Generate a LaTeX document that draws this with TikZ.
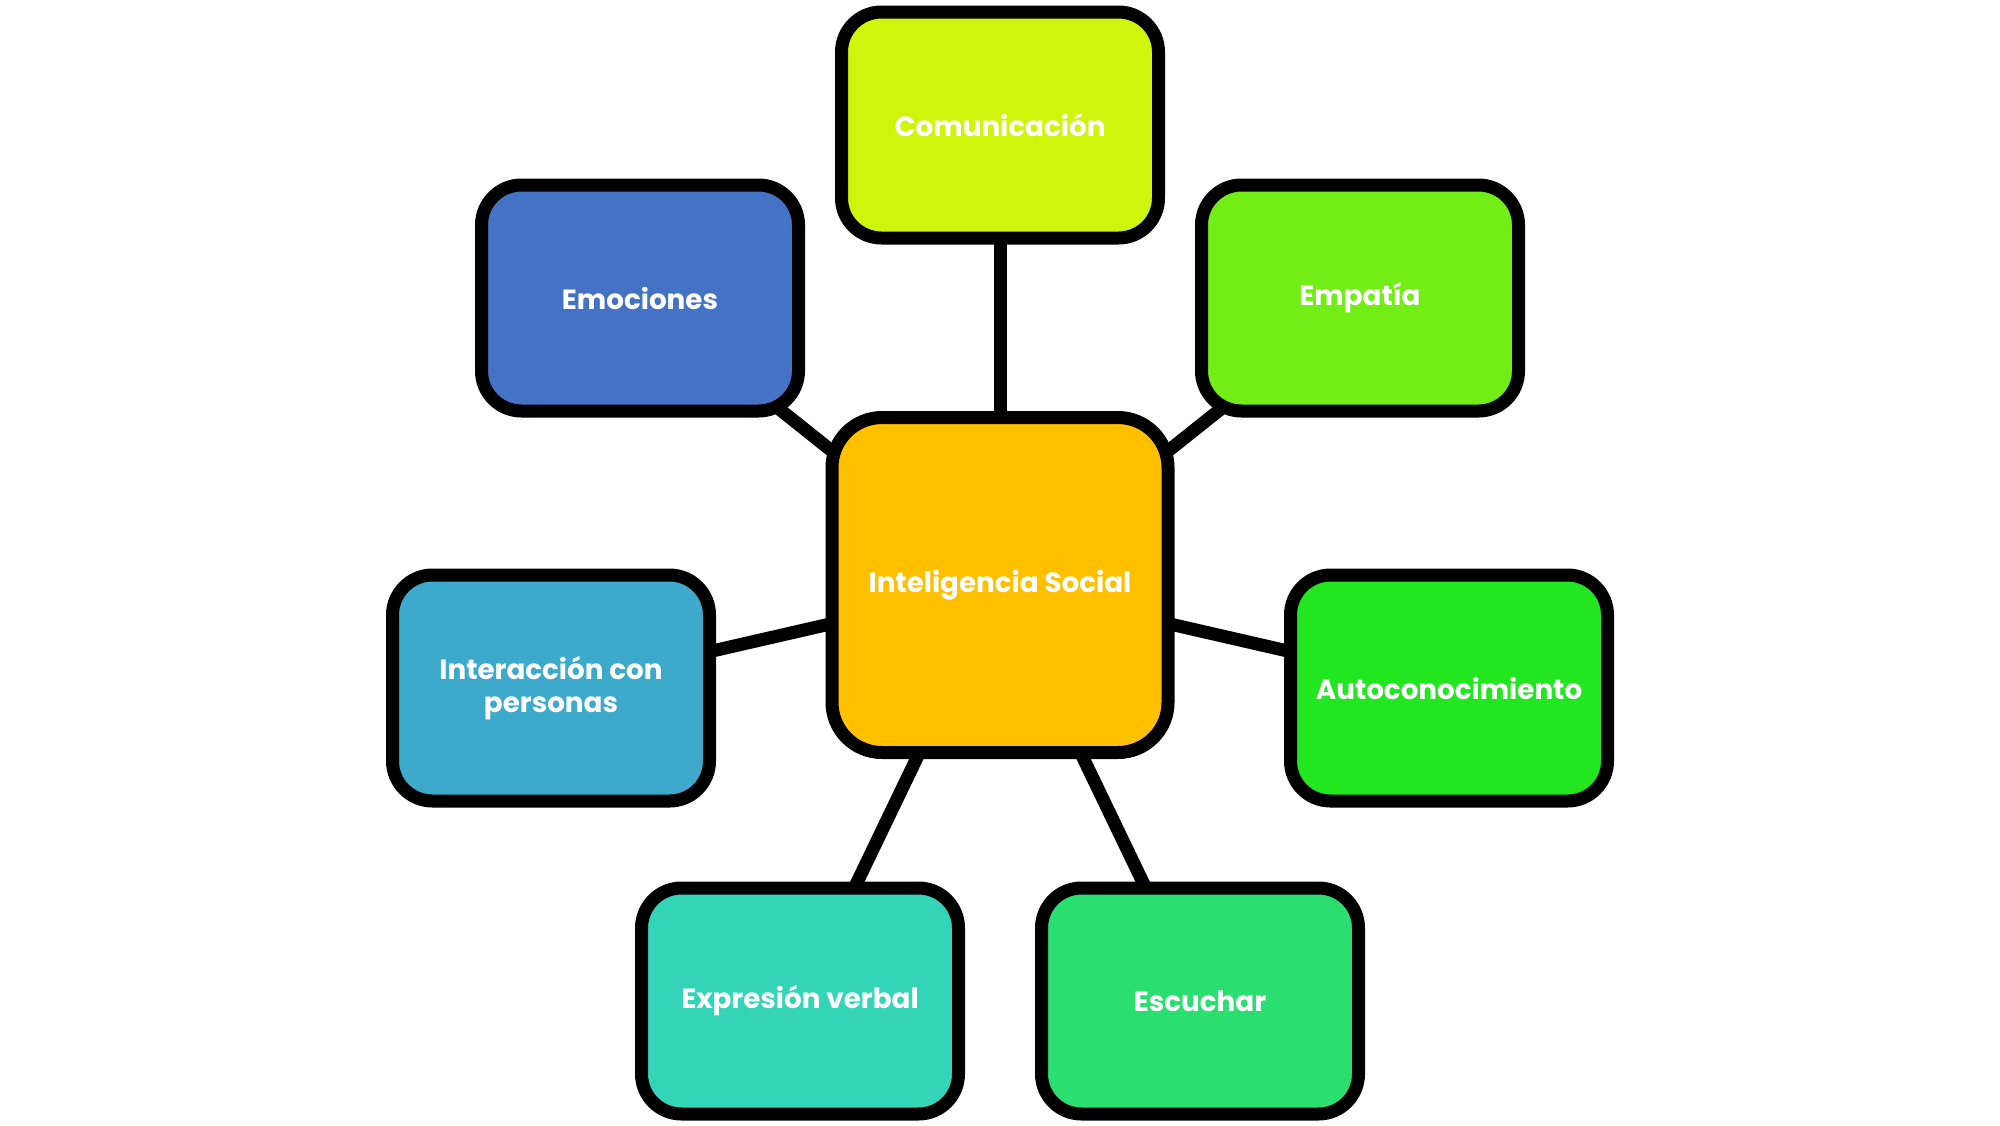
\documentclass[tikz,border=0pt]{standalone}
\usepackage{fontspec}
\setsansfont{Poppins}
\usetikzlibrary{backgrounds}

\definecolor{colcentro}{HTML}{FFC000}
\definecolor{colcomunicacion}{HTML}{CFF50C}
\definecolor{colemociones}{HTML}{4472C4}
\definecolor{colempatia}{HTML}{72EE16}
\definecolor{colinteraccion}{HTML}{3DAACC}
\definecolor{colauto}{HTML}{22E620}
\definecolor{colexpresion}{HTML}{33D4B8}
\definecolor{colescuchar}{HTML}{2ADE70}

\begin{document}
\begin{tikzpicture}[
  every node/.style={font=\sffamily\bfseries\fontsize{7.9}{9.3}\selectfont, text=white},
  caja/.style={rectangle, rounded corners=0.4cm, draw=black, line width=3.7pt,
    align=center, minimum width=3.17cm, minimum height=2.26cm, inner sep=4pt},
  centro/.style={caja, rounded corners=0.5cm, minimum width=3.36cm, minimum height=3.35cm},
  conector/.style={draw=black, line width=3.7pt}]
\useasboundingbox (0,0) rectangle (20,-11.25);
\node[centro, fill=colcentro] (centro) at (10,-5.85) {Inteligencia Social};
\node[caja, fill=colcomunicacion] (comunicacion) at (10,-1.25) {Comunicación};
\node[caja, fill=colemociones] (emociones) at (6.4,-2.98) {Emociones};
\node[caja, fill=colempatia] (empatia) at (13.6,-2.98) {Empatía};
\node[caja, fill=colinteraccion] (interaccion) at (5.51,-6.88) {Interacción con\\personas};
\node[caja, fill=colauto] (auto) at (14.49,-6.88) {Autoconocimiento};
\node[caja, fill=colexpresion] (expresion) at (8.0,-10.01) {Expresión verbal};
\node[caja, fill=colescuchar] (escuchar) at (12.0,-10.01) {Escuchar};
% conectores por detras de las cajas
\begin{scope}[on background layer]
\foreach \n in {comunicacion,emociones,empatia,interaccion,auto,expresion,escuchar}
  \draw[conector] (centro.center) -- (\n.center);
\end{scope}
\end{tikzpicture}
\end{document}
